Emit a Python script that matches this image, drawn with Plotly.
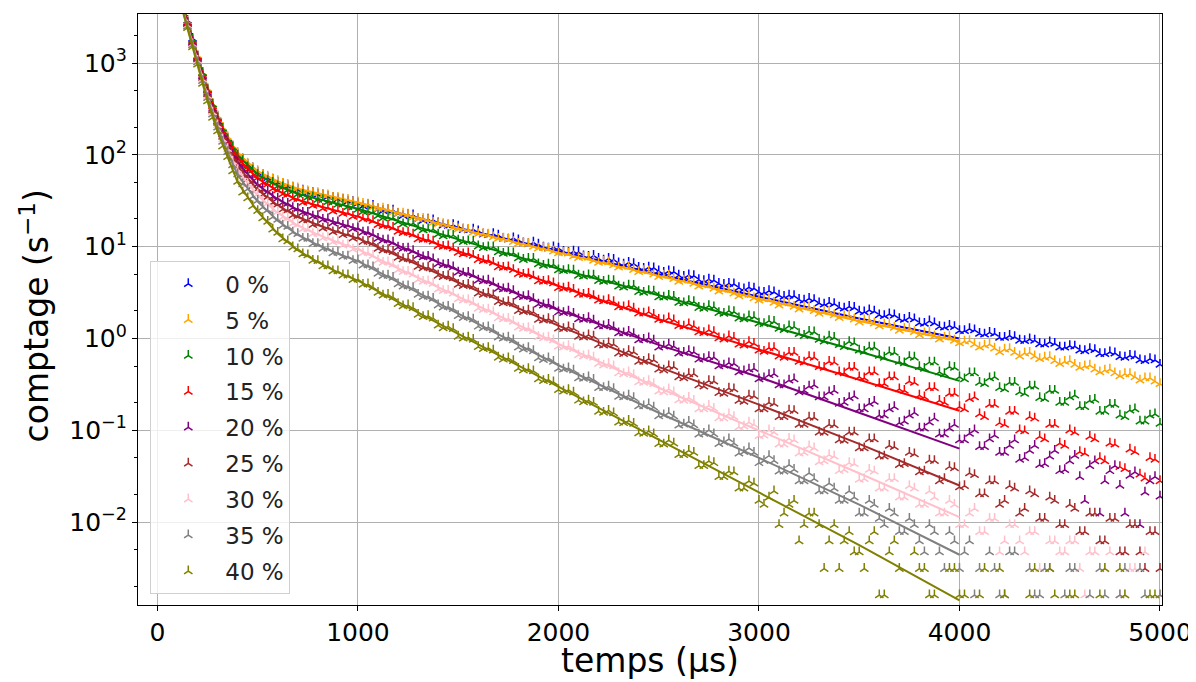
import plotly.graph_objects as go

# Sampling times (µs): 25 µs steps up to 1000, then 50 µs steps (two interleaved sets)
t_early = list(range(150, 1001, 25))
t_late = list(range(1050, 5001, 50))
t_mid = list(range(1025, 5000, 50))
t_data = t_early + t_late

labels = ["0 %", "5 %", "10 %", "15 %", "20 %", "25 %", "30 %", "35 %", "40 %"]
colors = ["blue", "orange", "green", "red", "purple", "brown", "pink", "gray", "olive"]

x_ticks = [0, 1000, 2000, 3000, 4000, 5000]
y_ticks = [0.01, 0.1, 1, 10, 100, 1000]
y_ticktext = ["10<sup>−2</sup>", "10<sup>−1</sup>", "10<sup>0</sup>",
              "10<sup>1</sup>", "10<sup>2</sup>", "10<sup>3</sup>"]

rate_0 = [2900, 1850, 1190, 780, 518, 356, 261, 197, 151, 124, 102, 90.0,
          78.0, 71.5, 64.5, 60.8, 56.0, 53.9, 50.2, 48.4, 45.6, 44.2, 41.7, 40.9,
          38.8, 38.6, 37.0, 36.3, 35.0, 34.3, 33.0, 32.7, 31.2, 30.8, 29.6,
          28.5, 25.6, 25.2, 22.9, 22.3, 20.0, 19.8, 18.0, 17.0, 16.6,
          15.1, 14.8, 13.4, 13.3, 12.0, 11.8, 10.7, 10.6, 9.6, 9.6,
          8.6, 8.7, 7.8, 7.4, 7.4, 6.6, 6.7, 5.9, 5.95, 5.4,
          5.4, 4.85, 4.9, 4.35, 4.4, 3.95, 3.95, 3.55, 3.6, 3.2,
          3.3, 2.95, 2.95, 2.65, 2.72, 2.42, 2.45, 2.18, 2.22, 1.97,
          2.03, 1.8, 1.84, 1.63, 1.69, 1.47, 1.54, 1.34, 1.38, 1.21,
          1.27, 1.13, 1.16, 1.02, 1.07, 0.95, 0.98, 0.87, 0.91, 0.80,
          0.83, 0.74, 0.77, 0.68, 0.71, 0.63, 0.65, 0.58, 0.60, 0.52]
rate_5 = [2850, 1800, 1210, 785, 530, 358, 266, 198, 157, 124, 106, 90.0,
          80.5, 71.6, 66.8, 61.0, 58.2, 53.6, 51.9, 48.5, 47.4, 44.0, 43.3, 40.6,
          40.3, 38.4, 38.5, 36.1, 36.4, 34.2, 34.3, 32.6, 32.5, 30.5, 30.6,
          28.9, 26.0, 25.3, 23.0, 22.4, 20.1, 19.6, 17.7, 17.3, 15.5,
          15.3, 13.8, 13.6, 12.2, 12.0, 10.8, 10.7, 9.6, 9.5, 8.5,
          8.45, 7.55, 7.6, 6.7, 6.8, 5.95, 6.05, 5.3, 5.4, 4.7,
          4.85, 4.15, 4.3, 3.7, 3.8, 3.25, 3.4, 2.9, 3.0, 2.6,
          2.7, 2.3, 2.42, 2.08, 2.2, 1.87, 1.97, 1.68, 1.78, 1.50,
          1.59, 1.36, 1.43, 1.22, 1.29, 1.09, 1.16, 0.98, 1.05, 0.89,
          0.94, 0.80, 0.86, 0.71, 0.77, 0.64, 0.70, 0.60, 0.63, 0.53,
          0.57, 0.48, 0.51, 0.43, 0.46, 0.39, 0.41, 0.35, 0.37, 0.32]
rate_10 = [2780, 1800, 1175, 780, 510, 355, 253, 193, 148, 121, 98.0, 86.0,
           73.5, 67.8, 60.5, 57.2, 52.0, 49.8, 45.6, 44.5, 41.2, 40.1, 37.2, 36.9,
           34.5, 34.6, 32.6, 32.4, 30.7, 30.4, 28.8, 28.9, 27.1, 26.9, 25.4,
           24.4, 21.6, 21.0, 18.6, 18.0, 15.9, 15.5, 13.6, 13.4, 11.7,
           11.5, 10.1, 9.9, 8.7, 8.6, 7.5, 7.4, 6.45, 6.4, 5.55,
           5.6, 4.85, 4.9, 4.25, 4.3, 3.7, 3.78, 3.22, 3.3, 2.82,
           2.92, 2.46, 2.56, 2.16, 2.26, 1.9, 1.99, 1.66, 1.75, 1.46,
           1.55, 1.28, 1.36, 1.12, 1.19, 0.97, 1.05, 0.85, 0.92, 0.74,
           0.80, 0.65, 0.71, 0.56, 0.63, 0.49, 0.55, 0.43, 0.49, 0.38,
           0.42, 0.33, 0.37, 0.29, 0.33, 0.26, 0.30, 0.225, 0.27, 0.20,
           0.23, 0.18, 0.21, 0.16, 0.19, 0.145, 0.165, 0.125, 0.145, 0.118]
rate_15 = [2760, 1740, 1165, 745, 500, 337, 248, 181, 143, 110, 93.0, 77.2,
           69.0, 60.0, 56.2, 49.6, 47.8, 42.6, 41.4, 37.4, 37.0, 33.3, 33.1, 30.2,
           30.5, 28.0, 28.6, 26.0, 26.7, 24.2, 24.9, 22.9, 23.3, 21.2, 21.8,
           20.3, 17.3, 17.0, 14.6, 14.3, 12.1, 12.0, 10.2, 10.1, 8.6,
           8.5, 7.2, 7.15, 6.0, 6.0, 5.05, 5.05, 4.22, 4.25, 3.55,
           3.6, 3.03, 3.08, 2.6, 2.63, 2.2, 2.26, 1.88, 1.94, 1.6,
           1.66, 1.37, 1.43, 1.17, 1.23, 1.01, 1.06, 0.86, 0.92, 0.74,
           0.79, 0.64, 0.70, 0.56, 0.63, 0.49, 0.56, 0.43, 0.48, 0.38,
           0.43, 0.32, 0.38, 0.28, 0.34, 0.24, 0.29, 0.21, 0.25, 0.18,
           0.22, 0.15, 0.19, 0.12, 0.16, 0.10, 0.14, 0.085, 0.115, 0.072,
           0.10, 0.058, 0.085, 0.050, 0.072, 0.040, 0.062, 0.033, 0.050, 0.028]
rate_20 = [2690, 1690, 1125, 715, 476, 319, 233, 168, 132, 100, 83.0, 67.5,
           60.2, 51.5, 47.8, 41.8, 39.7, 34.9, 33.6, 30.1, 29.5, 26.4, 25.9, 23.5,
           23.5, 21.4, 21.7, 19.7, 20.0, 18.1, 18.5, 16.9, 17.2, 15.6, 15.9,
           14.5, 12.2, 11.8, 9.8, 9.6, 8.0, 7.8, 6.5, 6.35, 5.25,
           5.2, 4.3, 4.3, 3.5, 3.5, 2.88, 2.9, 2.35, 2.37, 1.93,
           1.97, 1.62, 1.67, 1.36, 1.41, 1.14, 1.19, 0.96, 1.01, 0.80,
           0.86, 0.69, 0.73, 0.59, 0.63, 0.50, 0.54, 0.43, 0.46, 0.36,
           0.40, 0.31, 0.35, 0.26, 0.30, 0.23, 0.26, 0.195, 0.225, 0.17,
           0.195, 0.145, 0.17, 0.12, 0.145, 0.105, 0.122, 0.09, 0.105, 0.078,
           0.092, 0.066, 0.080, 0.057, 0.068, 0.048, 0.060, 0.042, 0.052, 0.036,
           0.046, 0.031, 0.041, 0.0124, 0.036, 0.025, 0.032, 0.0093, 0.028, 0.019]
rate_25 = [2640, 1650, 1095, 692, 460, 305, 224, 158, 125, 93.0, 76.0, 61.0,
           54.5, 45.8, 42.6, 36.6, 34.8, 30.0, 28.9, 25.4, 25.0, 21.9, 21.6, 19.4,
           19.5, 17.3, 17.7, 15.8, 16.2, 14.4, 14.9, 13.4, 13.8, 12.3, 12.7,
           11.4, 9.5, 9.2, 7.6, 7.4, 6.05, 5.95, 4.85, 4.8, 3.85,
           3.85, 3.1, 3.1, 2.5, 2.5, 2.0, 2.02, 1.6, 1.63, 1.29,
           1.33, 1.05, 1.09, 0.85, 0.89, 0.69, 0.73, 0.56, 0.60, 0.46,
           0.50, 0.38, 0.41, 0.31, 0.345, 0.255, 0.285, 0.21, 0.24, 0.17,
           0.20, 0.14, 0.165, 0.115, 0.138, 0.095, 0.115, 0.078, 0.095, 0.064,
           0.080, 0.052, 0.068, 0.042, 0.057, 0.035, 0.047, 0.028, 0.040, 0.024,
           0.0341, 0.0202, 0.0279, 0.0155, 0.0248, 0.0124, 0.0217, 0.0109, 0.0186, 0.0093,
           0.0155, 0.0078, 0.0124, 0.0062, 0.0109, 0.0047, 0.0093, 0.0047, 0.0078, 0.0031]
rate_30 = [2580, 1610, 1060, 665, 440, 291, 211, 148, 116, 85.0, 68.8, 54.3,
           48.2, 40.2, 37.0, 31.4, 29.6, 25.2, 24.0, 20.9, 20.5, 17.8, 17.4, 15.5,
           15.5, 13.8, 13.9, 12.4, 12.6, 11.2, 11.5, 10.3, 10.6, 9.35, 9.65,
           8.6, 7.1, 6.8, 5.55, 5.35, 4.35, 4.22, 3.42, 3.32, 2.68,
           2.63, 2.12, 2.07, 1.67, 1.64, 1.32, 1.30, 1.04, 1.03, 0.82,
           0.83, 0.66, 0.66, 0.53, 0.53, 0.42, 0.43, 0.335, 0.345, 0.265,
           0.28, 0.213, 0.226, 0.17, 0.185, 0.136, 0.15, 0.108, 0.122, 0.087,
           0.10, 0.070, 0.081, 0.056, 0.067, 0.045, 0.054, 0.036, 0.044, 0.029,
           0.0372, 0.0233, 0.0295, 0.0186, 0.0248, 0.0155, 0.0217, 0.0124, 0.0171, 0.0093,
           0.0124, 0.0078, 0.0109, 0.0047, 0.0093, 0.0062, 0.0078, 0.0031, 0.0062, 0.0047,
           0.0062, 0.0031, 0.0047, None, 0.0047, 0.0016, 0.0031, 0.0031, None, 0.0016]
rate_35 = [2515, 1565, 1025, 638, 418, 276, 199, 139, 108, 77.5, 61.5, 48.0,
           42.3, 34.8, 31.7, 26.7, 25.0, 21.0, 19.7, 17.0, 16.5, 14.3, 13.8, 12.2,
           12.2, 10.7, 10.7, 9.5, 9.6, 8.5, 8.6, 7.8, 7.85, 7.0, 7.15,
           6.3, 5.1, 4.85, 3.9, 3.72, 3.0, 2.88, 2.3, 2.22, 1.76,
           1.72, 1.35, 1.33, 1.03, 1.03, 0.80, 0.79, 0.61, 0.61, 0.47,
           0.475, 0.37, 0.38, 0.29, 0.30, 0.232, 0.24, 0.183, 0.193, 0.143,
           0.155, 0.113, 0.124, 0.090, 0.100, 0.071, 0.080, 0.056, 0.064, 0.044,
           0.0527, 0.0357, 0.0419, 0.0279, 0.0341, 0.0217, 0.0264, 0.0171, 0.0217, 0.0124,
           0.0171, 0.0109, 0.0140, 0.0078, 0.0109, 0.0062, 0.0093, 0.0047, 0.0078, 0.0031,
           0.0062, 0.0031, 0.0047, 0.0016, 0.0047, None, 0.0031, 0.0016, 0.0031, None,
           0.0031, None, 0.0016, 0.0031, None, 0.0016, None, 0.0031, None, 0.0016]
rate_40 = [2420, 1495, 968, 596, 385, 254, 181, 124, 95.0, 66.5, 51.0, 39.0,
           33.8, 27.6, 24.6, 20.4, 18.7, 15.4, 14.2, 12.1, 11.5, 9.85, 9.4, 8.3,
           8.1, 7.05, 7.0, 6.15, 6.15, 5.42, 5.42, 4.88, 4.88, 4.35, 4.4,
           3.9, 3.15, 3.0, 2.38, 2.3, 1.82, 1.76, 1.39, 1.35, 1.05,
           1.03, 0.81, 0.79, 0.62, 0.61, 0.47, 0.465, 0.36, 0.355, 0.275,
           0.275, 0.211, 0.212, 0.160, 0.164, 0.122, 0.127, 0.093, 0.098, 0.071,
           0.0775, 0.054, 0.060, 0.041, 0.046, 0.031, 0.0357, 0.0233, 0.0279, 0.0171,
           0.0186, 0.0093, 0.0155, 0.0062, 0.0124, 0.0093, 0.0062, 0.0031, 0.0078, 0.0047,
           0.0062, 0.0016, 0.0047, 0.0031, None, 0.0031, 0.0016, None, 0.0031, 0.0016,
           None, 0.0016, None, 0.0031, None, None, 0.0016, None, 0.0031, None,
           0.0016, None, None, 0.0016, None, 0.0031, None, None, 0.0016, None]

# ---- additional measured rates (s^-1) on t_mid ----
mid_0 = [27.6, 27.9, 24.5, 24.8, 21.7, 22.0, 19.2, 19.5, 17.1, 17.3,
         15.2, 15.4, 13.6, 13.8, 12.2, 12.4, 10.9, 11.1, 9.8, 9.9,
         8.8, 8.9, 7.9, 8.0, 7.1, 7.2, 6.4, 6.5, 5.75, 5.85,
         5.2, 5.3, 4.7, 4.8, 4.25, 4.3, 3.85, 3.9, 3.45, 3.5,
         3.15, 3.2, 2.85, 2.9, 2.6, 2.63, 2.35, 2.38, 2.13, 2.16,
         1.94, 1.97, 1.76, 1.79, 1.6, 1.62, 1.45, 1.47, 1.32, 1.34,
         1.21, 1.23, 1.11, 1.13, 1.02, 1.04, 0.94, 0.95, 0.86, 0.88,
         0.80, 0.82, 0.73, 0.75, 0.68, 0.69, 0.62, 0.64, 0.57, 0.58]
mid_5 = [29.4, 27.0, 26.1, 23.7, 23.0, 20.9, 20.2, 18.3, 17.7, 16.1,
         15.6, 14.3, 13.9, 12.7, 12.3, 11.3, 10.9, 10.0, 9.7, 8.9,
         8.6, 7.9, 7.7, 7.05, 6.85, 6.3, 6.1, 5.6, 5.45, 5.0,
         4.85, 4.45, 4.3, 3.95, 3.8, 3.5, 3.4, 3.1, 3.0, 2.75,
         2.68, 2.46, 2.42, 2.22, 2.18, 2.0, 1.95, 1.8, 1.75, 1.61,
         1.58, 1.46, 1.42, 1.31, 1.28, 1.18, 1.14, 1.06, 1.03, 0.95,
         0.93, 0.86, 0.84, 0.78, 0.76, 0.70, 0.69, 0.64, 0.62, 0.57,
         0.56, 0.52, 0.50, 0.46, 0.45, 0.42, 0.41, 0.38, 0.37, 0.34]
mid_10 = [24.0, 23.8, 20.4, 20.6, 17.6, 17.9, 15.1, 15.4, 13.0, 13.3,
          11.3, 11.4, 9.7, 9.9, 8.4, 8.5, 7.2, 7.4, 6.2, 6.35,
          5.45, 5.5, 4.75, 4.85, 4.15, 4.25, 3.6, 3.75, 3.15, 3.25,
          2.8, 2.85, 2.43, 2.5, 2.12, 2.2, 1.86, 1.95, 1.62, 1.72,
          1.44, 1.52, 1.24, 1.34, 1.07, 1.17, 0.93, 1.02, 0.81, 0.89,
          0.72, 0.80, 0.62, 0.70, 0.54, 0.62, 0.47, 0.55, 0.41, 0.48,
          0.36, 0.42, 0.32, 0.38, 0.28, 0.33, 0.25, 0.30, 0.22, 0.27,
          0.20, 0.24, 0.18, 0.215, 0.16, 0.19, 0.14, 0.17, 0.125, 0.15]
mid_15 = [20.0, 19.1, 16.8, 16.1, 14.1, 13.6, 11.9, 11.4, 10.0, 9.6,
          8.3, 8.0, 7.0, 6.7, 5.9, 5.6, 4.95, 4.75, 4.15, 4.0,
          3.5, 3.4, 3.0, 2.9, 2.55, 2.5, 2.2, 2.12, 1.88, 1.82,
          1.58, 1.58, 1.35, 1.36, 1.15, 1.18, 0.98, 1.02, 0.84, 0.88,
          0.72, 0.79, 0.62, 0.70, 0.55, 0.62, 0.48, 0.55, 0.42, 0.48,
          0.37, 0.43, 0.32, 0.38, 0.27, 0.33, 0.23, 0.29, 0.20, 0.25,
          0.17, 0.23, 0.14, 0.19, 0.115, 0.16, 0.098, 0.135, 0.08, 0.115,
          0.068, 0.095, 0.056, 0.08, 0.046, 0.07, 0.038, 0.058, 0.03, 0.048]
mid_20 = [14.3, 13.6, 11.7, 11.1, 9.5, 9.0, 7.7, 7.3, 6.3, 6.0,
          5.1, 4.9, 4.2, 4.0, 3.45, 3.3, 2.83, 2.7, 2.3, 2.22,
          1.9, 1.86, 1.6, 1.57, 1.36, 1.33, 1.14, 1.12, 0.97, 0.95,
          0.82, 0.82, 0.70, 0.71, 0.60, 0.62, 0.51, 0.53, 0.44, 0.47,
          0.37, 0.41, 0.31, 0.36, 0.27, 0.31, 0.23, 0.27, 0.20, 0.235,
          0.17, 0.205, 0.145, 0.18, 0.125, 0.155, 0.105, 0.135, 0.09, 0.115,
          0.078, 0.10, 0.066, 0.088, 0.057, 0.078, 0.05, 0.068, 0.043, 0.06,
          0.037, 0.053, 0.0171, 0.046, 0.028, 0.041, 0.0124, 0.035, 0.021, 0.031]
mid_25 = [11.3, 11.0, 9.1, 8.8, 7.3, 7.1, 5.85, 5.7, 4.7, 4.55,
          3.75, 3.7, 3.0, 2.97, 2.42, 2.4, 1.95, 1.93, 1.57, 1.56,
          1.27, 1.28, 1.03, 1.05, 0.84, 0.86, 0.68, 0.71, 0.56, 0.58,
          0.45, 0.49, 0.37, 0.41, 0.30, 0.34, 0.25, 0.28, 0.205, 0.235,
          0.17, 0.195, 0.14, 0.163, 0.115, 0.137, 0.094, 0.114, 0.077, 0.095,
          0.064, 0.08, 0.052, 0.066, 0.043, 0.055, 0.0357, 0.0465, 0.0295, 0.0388,
          0.0248, 0.0326, 0.0202, 0.0279, 0.0171, 0.0233, 0.014, 0.0202, 0.0109, 0.0171,
          0.0093, 0.014, 0.0078, 0.0124, 0.0062, 0.0109, 0.0047, 0.0093, 0.0031, 0.0078]
mid_30 = [8.5, 8.0, 6.7, 6.4, 5.3, 5.0, 4.15, 3.95, 3.3, 3.1,
          2.6, 2.45, 2.05, 1.93, 1.62, 1.53, 1.28, 1.21, 1.01, 0.96,
          0.80, 0.77, 0.64, 0.62, 0.51, 0.50, 0.41, 0.40, 0.33, 0.32,
          0.26, 0.26, 0.21, 0.21, 0.17, 0.172, 0.135, 0.14, 0.11, 0.115,
          0.088, 0.095, 0.07, 0.078, 0.057, 0.064, 0.046, 0.052, 0.037, 0.043,
          0.0295, 0.0357, 0.0233, 0.0295, 0.0186, 0.0233, 0.0155, 0.0186, 0.0124, 0.0155,
          0.0093, 0.014, 0.0078, 0.0109, 0.0062, 0.0093, 0.0047, 0.0078, 0.0031, 0.0062,
          0.0047, 0.0062, 0.0016, 0.0047, 0.0031, None, 0.0016, 0.0031, 0.0047, None]
mid_35 = [6.25, 6.0, 4.8, 4.6, 3.7, 3.55, 2.84, 2.72, 2.18, 2.1,
          1.68, 1.61, 1.3, 1.24, 1.0, 0.96, 0.76, 0.73, 0.585, 0.56,
          0.46, 0.45, 0.365, 0.355, 0.29, 0.283, 0.23, 0.225, 0.183, 0.178,
          0.146, 0.142, 0.116, 0.114, 0.092, 0.091, 0.074, 0.072, 0.058, 0.057,
          0.0465, 0.0465, 0.0357, 0.0372, 0.0279, 0.0295, 0.0217, 0.0233, 0.0171, 0.0186,
          0.0124, 0.0155, 0.0093, 0.0124, 0.0078, 0.0093, 0.0047, 0.0078, 0.0031, 0.0062,
          0.0047, 0.0016, None, 0.0031, 0.0016, 0.0047, None, 0.0016, 0.0031, None,
          0.0016, 0.0031, None, None, 0.0016, None, 0.0031, None, 0.0016, None]
mid_40 = [3.85, 3.6, 2.95, 2.8, 2.25, 2.15, 1.72, 1.65, 1.3, 1.27,
          1.0, 0.97, 0.77, 0.74, 0.59, 0.57, 0.45, 0.44, 0.345, 0.335,
          0.265, 0.258, 0.203, 0.2, 0.156, 0.154, 0.12, 0.118, 0.092, 0.091,
          0.07, 0.072, 0.054, 0.057, 0.041, 0.044, 0.031, 0.035, 0.0233, 0.0264,
          0.0155, 0.0217, 0.0124, 0.0171, 0.0093, 0.0124, 0.0031, 0.0093, 0.0062, 0.0047,
          0.0031, 0.0078, 0.0016, 0.0062, None, 0.0047, 0.0031, 0.0016, None, 0.0031,
          0.0016, None, 0.0031, None, 0.0016, None, None, 0.0031, None, 0.0016,
          None, 0.0016, None, None, 0.0031, None, 0.0016, None, None, 0.0016]

# ---- fitted curves (s^-1) ----
t_fit = [120, 150, 200, 250, 300, 350, 400, 500, 600, 700, 800, 900, 1000,
         1500, 2000, 2500, 3000, 3500, 4000]
fit_0 = [4900, 2870, 1190, 522, 262, 153, 103, 65.0, 50.5, 42.0, 37.3, 33.3, 29.8,
         16.0, 8.9, 5.0, 2.85, 1.65, 1.0]
fit_5 = [4800, 2820, 1200, 525, 263, 155, 105, 66.1, 51.3, 42.7, 38.0, 33.9, 30.2,
         15.8, 8.6, 4.8, 2.7, 1.55, 0.93]
fit_10 = [4700, 2780, 1180, 512, 255, 149, 98.6, 61.0, 46.1, 37.7, 33.1, 29.2, 25.8,
          12.0, 5.75, 2.95, 1.48, 0.72, 0.345]
fit_15 = [4600, 2735, 1153, 495, 245, 141, 91.6, 55.1, 40.5, 32.3, 27.9, 24.2, 21.2,
          8.9, 3.72, 1.62, 0.76, 0.355, 0.163]
fit_20 = [4500, 2667, 1112, 470, 230, 130, 81.5, 46.8, 32.8, 25.2, 21.1, 18.0, 15.5,
          5.5, 2.04, 0.85, 0.38, 0.155, 0.063]
fit_25 = [4400, 2618, 1081, 453, 220, 123, 74.6, 41.5, 28.1, 21.0, 17.2, 14.4, 12.3,
          4.07, 1.38, 0.49, 0.19, 0.071, 0.025]
fit_30 = [4300, 2559, 1047, 433, 208, 114, 67.3, 36.0, 23.3, 16.9, 13.5, 11.1, 9.33,
          2.82, 0.87, 0.29, 0.10, 0.034, 0.0113]
fit_35 = [4200, 2495, 1012, 412, 196, 106, 60.3, 30.9, 19.1, 13.4, 10.4, 8.36, 6.95,
          1.86, 0.51, 0.155, 0.050, 0.0155, 0.0044]
fit_40 = [4100, 2399, 955, 380, 178, 93.3, 50.1, 24.0, 13.8, 9.12, 6.76, 5.25, 4.27,
          1.12, 0.295, 0.079, 0.021, 0.0056, 0.0014]

rates = [rate_0, rate_5, rate_10, rate_15, rate_20, rate_25, rate_30, rate_35, rate_40]
mids = [mid_0, mid_5, mid_10, mid_15, mid_20, mid_25, mid_30, mid_35, mid_40]
fits = [fit_0, fit_5, fit_10, fit_15, fit_20, fit_25, fit_30, fit_35, fit_40]

FONT = "DejaVu Sans"
fig = go.Figure()
for lab, col, r, m, f in zip(labels, colors, rates, mids, fits):
    fig.add_trace(go.Scatter(
        x=t_data + t_mid, y=r + m, mode="markers", name=lab, legendgroup=lab,
        marker=dict(symbol="y-up", size=7, color=col,
                    line=dict(color=col, width=1.5)),
    ))
    fig.add_trace(go.Scatter(
        x=t_fit, y=f, mode="lines", showlegend=False, legendgroup=lab,
        line=dict(color=col, width=2), hoverinfo="skip",
    ))

axis_common = dict(
    showline=True, linecolor="black", linewidth=1.2, mirror=True,
    ticks="outside", ticklen=5, tickwidth=1.2, tickcolor="black",
    showgrid=True, gridcolor="#b0b0b0", gridwidth=1, zeroline=False,
    tickfont=dict(family=FONT, size=25, color="black"),
    automargin=False, ticklabeloverflow="allow",
)

# page body adds an 8 px offset, so the figure is drawn 8 px smaller
fig.update_layout(
    width=1188, height=674,
    margin=dict(l=130, r=34, t=6, b=77),
    paper_bgcolor="white", plot_bgcolor="white",
    font=dict(family=FONT, color="black"),
    xaxis=dict(range=[-97, 5010], tickvals=x_ticks, **axis_common),
    yaxis=dict(type="log", range=[-2.904, 3.534],
               tickvals=y_ticks, ticktext=y_ticktext,
               minor=dict(ticks="outside", ticklen=3, tickcolor="black", showgrid=False),
               **axis_common),
    legend=dict(x=0.012, y=0.018, xanchor="left", yanchor="bottom",
                bgcolor="rgba(255,255,255,0.8)", bordercolor="#d0d0d0", borderwidth=1,
                font=dict(family=FONT, size=23, color="#222"),
                tracegroupgap=3, itemwidth=64),
    showlegend=True,
    annotations=[
        dict(text="temps (µs)", xref="paper", yref="paper", x=0.5, y=-0.094,
             xanchor="center", yanchor="middle", showarrow=False,
             font=dict(family=FONT, size=33, color="black")),
        dict(text="comptage (s<sup>−1</sup>)", xref="paper", yref="paper",
             x=-0.1006, y=0.49, xanchor="center", yanchor="middle", textangle=-90,
             showarrow=False, font=dict(family=FONT, size=33, color="black")),
    ],
)

fig.write_html("out.html")
